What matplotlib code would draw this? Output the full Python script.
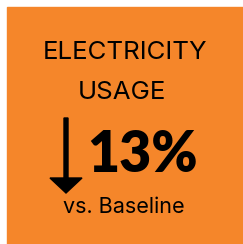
import matplotlib
from matplotlib import pyplot as plt
from matplotlib.patches import Rectangle

# card content
title_lines = ['ELECTRICITY', 'USAGE']
change_pct = 13
direction = 'down'
subtitle = 'vs. Baseline'

card_color = '#F5862A'
font_name = 'Inter'

fig = plt.figure(figsize=(2.43, 2.44), dpi=100)
ax = fig.add_axes([0, 0, 1, 1])
ax.set_xlim(0, 243)
ax.set_ylim(244, 0)
ax.axis('off')

# orange card
ax.add_patch(Rectangle((7, 7), 240, 240, color=card_color, zorder=0))

# title
ax.text(125.5, 59, title_lines[0], ha='center', va='baseline',
        fontsize=18.6, family=font_name, color='black')
ax.text(122, 99, title_lines[1], ha='center', va='baseline',
        fontsize=18.6, family=font_name, color='black')

# arrow
if direction == 'down':
    ax.arrow(66, 118, 0, 75, width=4, head_width=32, head_length=15,
             length_includes_head=True, color='black')

# big number
ax.text(87, 172, f'{change_pct}%', ha='left', va='baseline',
        fontsize=40, family='Lato', fontweight='heavy', color='black')

# subtitle
ax.text(124, 213, subtitle, ha='center', va='baseline',
        fontsize=15.5, family=font_name, color='black')

plt.savefig('out.png', dpi=100)
